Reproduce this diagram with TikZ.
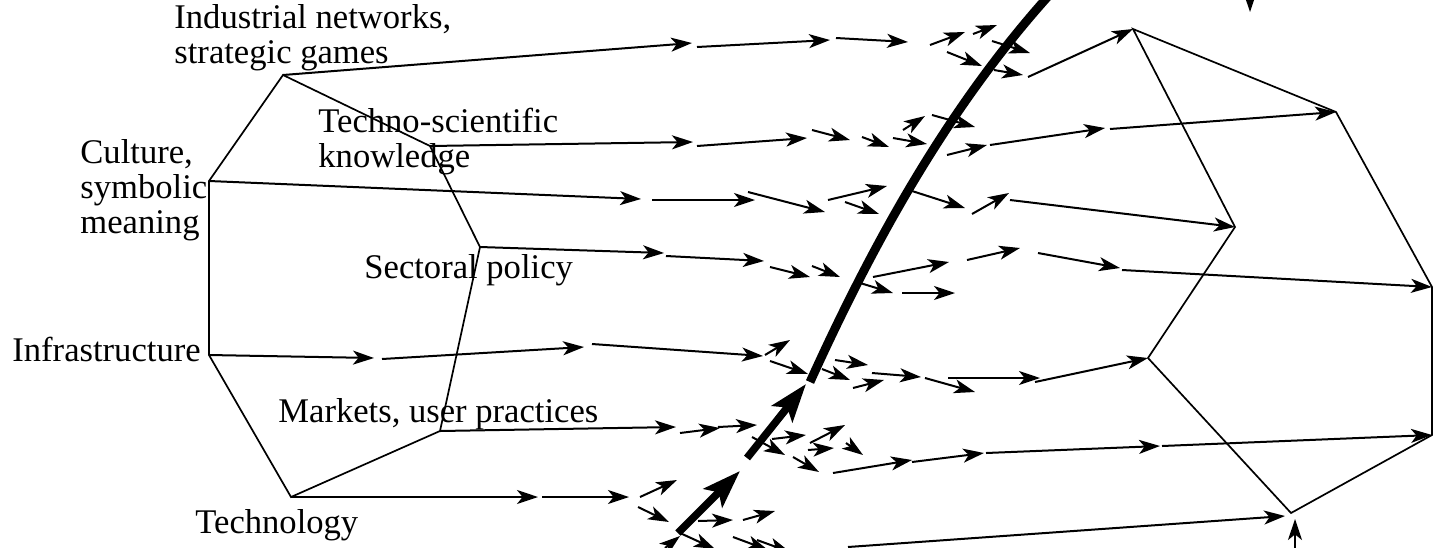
\documentclass[tikz,border=0pt]{standalone}
\usepackage{fontspec}
\setmainfont{Liberation Serif}
\usetikzlibrary{arrows.meta}
\begin{document}
\tikzset{
  lbl/.style={font=\fontsize{17.3}{17.5}\selectfont, inner sep=0pt, anchor=base west, align=left},
  hexedge/.style={line width=0.85pt, line join=miter},
  flow/.style={line width=1pt, -{Stealth[length=10.5pt,width=7pt,inset=2.8pt]}},
  bigarrow/.style={line width=3.8pt, -{Stealth[length=19pt,width=13pt,inset=4pt]}},
  bigcurve/.style={line width=4.4pt}
}
\begin{tikzpicture}[x=0.5pt,y=-0.5pt]
\useasboundingbox (0,0) rectangle (1434,547);
\clip (0,0) rectangle (1434,547);
% left polygon vertices
\coordinate (A1) at (283,75);
\coordinate (C1) at (209,181);
\coordinate (E1) at (209,355);
\coordinate (G1) at (291,497);
\coordinate (F1) at (440,431);
\coordinate (D1) at (480,247);
\coordinate (B1) at (430,146);
% right polygon vertices
\coordinate (A2) at (1133,29);
\coordinate (B2) at (1336,112);
\coordinate (D2) at (1432,287);
\coordinate (F2) at (1432,435);
\coordinate (G2) at (1291,513);
\coordinate (E2) at (1148,358);
\coordinate (C2) at (1235,227);

\draw[hexedge] (A1) -- (C1) -- (E1) -- (G1) -- (F1) -- (D1) -- (B1) -- cycle;
\draw[hexedge] (A2) -- (B2) -- (D2) -- (F2) -- (G2) -- (E2) -- (C2) -- cycle;

% labels (base = baseline of last line)
\node[lbl] (tind) at (174,63) {Industrial networks,\\strategic games};
\node[lbl] (tcul) at (80,233) {Culture,\\symbolic\\meaning};
\node[lbl] (ttec) at (318,167) {Techno-scientific\\knowledge};
\node[lbl] (tsec) at (364,278) {Sectoral policy};
\node[lbl] (tinf) at (12,361) {Infrastructure};
\node[lbl] (tmar) at (278,422) {Markets, user practices};
\node[lbl] (ttech) at (195,533) {Technology};

% thick curve and arrows
\draw[bigcurve] (810,382) .. controls (870,250) and (945,110) .. (1052,-8);
\draw[bigarrow] (747,458) -- (806,384);
\draw[bigarrow] (678,533) -- (740,471);

% row 1
\draw[flow] (A1) -- (692,43);
\draw[flow] (697,47) -- (830,40);
\draw[flow] (836,38) -- (908,42);
\draw[flow] (930,45) -- (965,32);
\draw[flow] (973,34) -- (997,25);
\draw[flow] (947,52) -- (982,66);
\draw[flow] (992,41) -- (1030,53);
\draw[flow] (994,70) -- (1023,75);
\draw[flow] (1028,77) -- (A2);
% row 2
\draw[flow] (B1) -- (693,142);
\draw[flow] (697,146) -- (807,138);
\draw[flow] (812,130) -- (850,140);
\draw[flow] (862,137) -- (889,147);
\draw[flow] (893,138) -- (927,144);
\draw[flow] (903,130) -- (925,116);
\draw[flow] (932,115) -- (975,127);
\draw[flow] (947,155) -- (987,145);
\draw[flow] (990,145) -- (1105,128);
\draw[flow] (1110,129) -- (B2);
% row 3
\draw[flow] (C1) -- (641,199);
\draw[flow] (652,200) -- (755,200);
\draw[flow] (748,192) -- (825,212);
\draw[flow] (828,200) -- (887,186);
\draw[flow] (845,202) -- (879,214);
\draw[flow] (912,191) -- (965,208);
\draw[flow] (972,214) -- (1009,193);
\draw[flow] (1010,200) -- (C2);
% row 4
\draw[flow] (D1) -- (664,253);
\draw[flow] (666,256) -- (764,261);
\draw[flow] (770,267) -- (810,277);
\draw[flow] (812,266) -- (840,277);
\draw[flow] (873,277) -- (949,262);
\draw[flow] (860,283) -- (893,293);
\draw[flow] (902,293) -- (955,293);
\draw[flow] (967,260) -- (1020,248);
\draw[flow] (1038,253) -- (1120,268);
\draw[flow] (1122,270) -- (D2);
% row 5
\draw[flow] (E1) -- (374,358);
\draw[flow] (382,359) -- (584,347);
\draw[flow] (592,344) -- (763,356);
\draw[flow] (765,355) -- (790,340);
\draw[flow] (770,361) -- (808,374);
\draw[flow] (835,360) -- (868,365);
\draw[flow] (822,369) -- (850,380);
\draw[flow] (853,388) -- (884,380);
\draw[flow] (872,373) -- (921,377);
\draw[flow] (925,378) -- (975,392);
\draw[flow] (948,378) -- (1040,378);
\draw[flow] (1035,382) -- (E2);
% row 6
\draw[flow] (F1) -- (676,427);
\draw[flow] (680,433) -- (720,428);
\draw[flow] (718,427) -- (757,425);
\draw[flow] (752,437) -- (785,455);
\draw[flow] (772,439) -- (806,435);
\draw[flow] (810,443) -- (845,425);
\draw[flow] (808,450) -- (834,448);
\draw[flow] (846,443) -- (863,455);
\draw[flow] (793,457) -- (819,472);
\draw[flow] (833,473) -- (912,460);
\draw[flow] (912,462) -- (984,453);
\draw[flow] (986,453) -- (1160,446);
\draw[flow] (1162,446) -- (F2);
% row 7
\draw[flow] (G1) -- (538,497);
\draw[flow] (542,497) -- (629,497);
\draw[flow] (640,497) -- (677,480);
\draw[flow] (638,507) -- (669,522);
\draw[flow] (698,521) -- (733,520);
\draw[flow] (743,520) -- (775,511);
\draw[flow] (680,533) -- (715,549);
\draw[flow] (733,537) -- (768,550);
\draw[flow] (757,540) -- (790,552);
\draw[flow] (665,548) -- (680,536);
\draw[flow] (848,547) -- (1285,516);
% cut-off arrows at the edges
\coordinate (up1) at (1295,560);
\coordinate (dn1) at (1250,-15);
\draw[flow] (up1) -- (1295,519);
\draw[flow] (dn1) -- (1250,12);
\end{tikzpicture}
\end{document}
